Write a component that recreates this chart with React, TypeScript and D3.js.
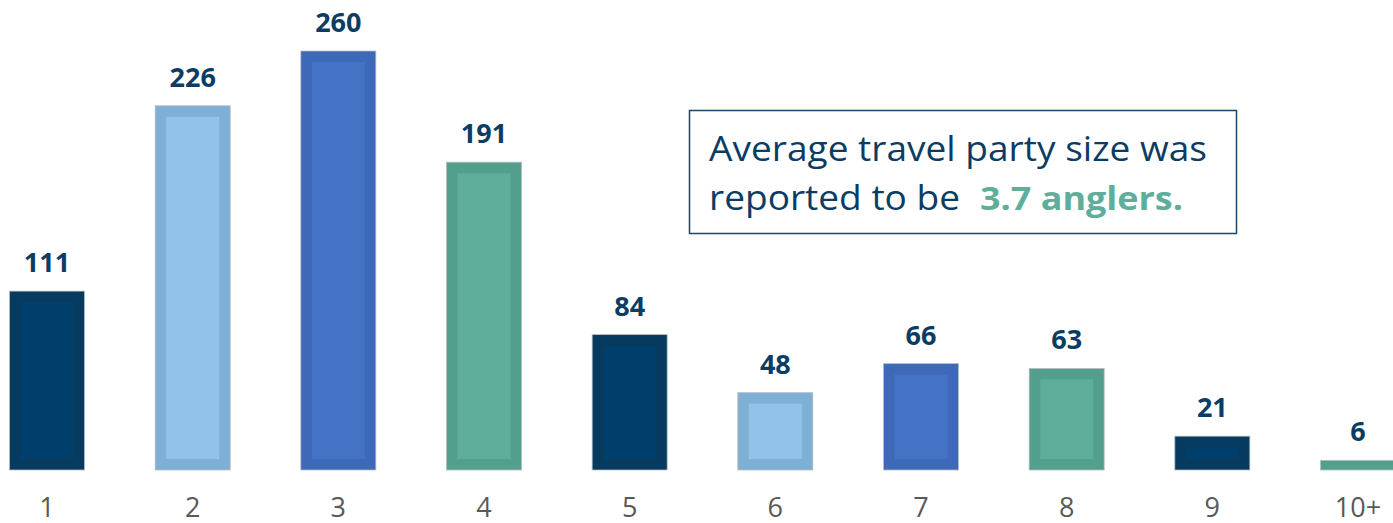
import React, { useEffect, useRef } from "react";
import * as d3 from "d3";

const categories = ["1", "2", "3", "4", "5", "6", "7", "8", "9", "10+"];
const values = [111, 226, 260, 191, 84, 48, 66, 63, 21, 6];

// outer (border) and inner (fill) tones per bar
const outerColors = ["#063a5f", "#7eafd5", "#3e68b8", "#539f8e", "#063a5f", "#7eafd5", "#3e68b8", "#539f8e", "#063a5f", "#539f8e"];
const innerColors = ["#003f6c", "#91c3ea", "#4472c4", "#5fae9c", "#003f6c", "#91c3ea", "#4472c4", "#5fae9c", "#003f6c", "#5fae9c"];

const noteLine1 = "Average travel party size was";
const noteLine2 = "reported to be";
const noteHighlight = "3.7 anglers.";

const W = 1393;
const H = 523;

const App = () => {
  const ref = useRef(null);

  useEffect(() => {
    document.body.style.margin = "0";
    const svg = d3.select(ref.current).attr("width", W).attr("height", H);
    svg.selectAll("*").remove();

    const font = "'Open Sans', 'Noto Sans', sans-serif";
    const baseY = 470;

    const step = (1358 - 47) / 9;
    const x = d3
      .scaleBand()
      .domain(categories)
      .range([47 - step / 2, 1358 + step / 2])
      .paddingInner(0.485)
      .paddingOuter(0.2425);

    const y = d3.scaleLinear().domain([0, 260]).range([baseY, 51]);

    const inset = 11;

    const bars = svg
      .append("g")
      .selectAll("g")
      .data(values)
      .enter()
      .append("g");

    bars
      .append("rect")
      .attr("x", (d, i) => x(categories[i]))
      .attr("y", (d) => y(d))
      .attr("width", x.bandwidth())
      .attr("height", (d) => baseY - y(d))
      .attr("fill", (d, i) => outerColors[i])
      .attr("stroke", "#b8bcc0")
      .attr("stroke-width", 0.8);

    bars
      .filter((d) => baseY - y(d) > inset * 2 + 2)
      .append("rect")
      .attr("x", (d) => x(categories[values.indexOf(d)]) + inset)
      .attr("y", (d) => y(d) + inset)
      .attr("width", x.bandwidth() - inset * 2)
      .attr("height", (d) => baseY - y(d) - inset * 2)
      .attr("fill", (d) => innerColors[values.indexOf(d)]);

    // value labels
    svg
      .append("g")
      .selectAll("text")
      .data(values)
      .enter()
      .append("text")
      .attr("x", (d, i) => x(categories[i]) + x.bandwidth() / 2)
      .attr("y", (d) => y(d) - 19)
      .attr("text-anchor", "middle")
      .style("font-family", font)
      .style("font-weight", "bold")
      .style("font-size", "27px")
      .attr("fill", "#0b3c63")
      .text((d) => d);

    // category labels
    svg
      .append("g")
      .selectAll("text")
      .data(categories)
      .enter()
      .append("text")
      .attr("x", (d) => x(d) + x.bandwidth() / 2)
      .attr("y", 517)
      .attr("text-anchor", "middle")
      .style("font-family", font)
      .style("font-size", "27px")
      .attr("fill", "#595959")
      .text((d) => d);

    // note box
    svg
      .append("rect")
      .attr("x", 689.5)
      .attr("y", 110.5)
      .attr("width", 547)
      .attr("height", 123)
      .attr("fill", "#fff")
      .attr("stroke", "#1b4668")
      .attr("stroke-width", 1.5);

    svg
      .append("text")
      .attr("x", 709)
      .attr("y", 161)
      .style("font-family", font)
      .style("font-size", "34px")
      .attr("fill", "#0b3c63")
      .attr("textLength", 498)
      .attr("lengthAdjust", "spacingAndGlyphs")
      .text(noteLine1);

    svg
      .append("text")
      .attr("x", 709)
      .attr("y", 210)
      .style("font-family", font)
      .style("font-size", "35px")
      .attr("fill", "#0b3c63")
      .attr("textLength", 251)
      .attr("lengthAdjust", "spacingAndGlyphs")
      .text(noteLine2);

    svg
      .append("text")
      .attr("x", 980)
      .attr("y", 210)
      .style("font-family", font)
      .style("font-size", "33px")
      .style("font-weight", "bold")
      .attr("fill", "#5fae9c")
      .attr("textLength", 203)
      .attr("lengthAdjust", "spacingAndGlyphs")
      .text(noteHighlight);
  }, []);

  return <svg ref={ref} style={{ display: "block" }} />;
};

export default App;
